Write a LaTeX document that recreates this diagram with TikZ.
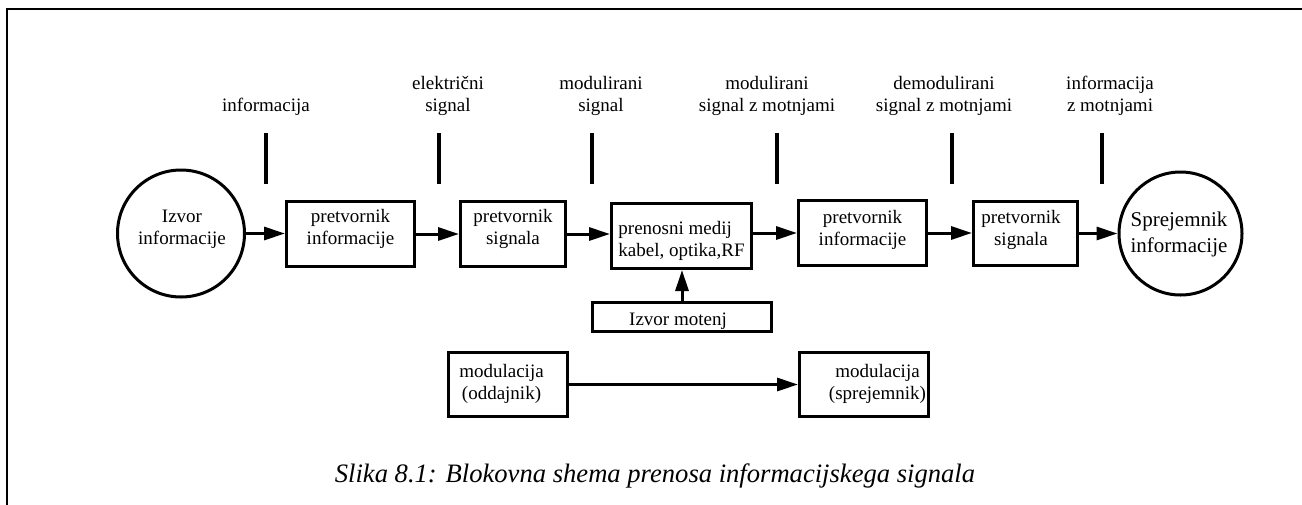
\documentclass[tikz,border=0pt]{standalone}
\usepackage{fontspec}
\setmainfont{Liberation Serif}
\usetikzlibrary{arrows.meta}
\begin{document}
\begin{tikzpicture}[x=1pt,y=-1pt,
  blk/.style={draw=black, line width=3.3pt, inner sep=0pt},
  disc/.style={draw=black, line width=3pt, circle, inner sep=0pt},
  txt/.style={inner sep=0pt, font=\fontsize{19}{22}\selectfont, align=center},
  sig/.style={txt, anchor=south},
  flow/.style={line width=3pt, -{Triangle[length=21pt,width=13pt]}},
  tickmark/.style={line width=3.5pt},
]
\useasboundingbox (0,0) rectangle (1302,504);
% frame edges
\draw[line width=2.4pt] (7,505) -- (7,9) -- (1303,9);

% main chain
\node[disc, minimum size=127pt] (src) at (181,233.5) {};
\node[txt] (srct) at (182,228.6) {Izvor\strut\\informacije\strut};

\node[blk, minimum width=127.7pt, minimum height=64.7pt] (pi1) at (350.5,234) {};
\node[txt] (pi1t) at (350.5,229) {pretvornik\strut\\informacije\strut};

\node[blk, minimum width=104.7pt, minimum height=64.7pt] (ps1) at (513,234) {};
\node[txt] (ps1t) at (513,229) {pretvornik\strut\\signala\strut};

\node[blk, minimum width=139.7pt, minimum height=64.7pt] (med) at (681.5,236) {};
\node[txt, align=left] (medt) at (681.5,240.6) {prenosni medij\strut\\kabel, optika,RF\strut};

\node[blk, minimum width=127.7pt, minimum height=64.7pt] (pi2) at (862.5,233) {};
\node[txt] (pi2t) at (862.5,229.6) {pretvornik\strut\\informacije\strut};

\node[blk, minimum width=103.7pt, minimum height=63.7pt] (ps2) at (1025.5,233.5) {};
\node[txt] (ps2t) at (1021,229.6) {pretvornik\strut\\signala\strut};

\node[disc, minimum size=123pt] (dst) at (1180.5,233.5) {};
\node[txt, font=\fontsize{21}{26}\selectfont] (dstt) at (1179,233.8) {Sprejemnik\strut\\informacije\strut};

% disturbance source
\node[blk, minimum width=178.7pt, minimum height=28.7pt] (noise) at (682,317) {};
\node[txt] (noiset) at (678,320.6) {Izvor motenj\strut};

% modulation pair
\node[blk, minimum width=118.7pt, minimum height=63.7pt] (modtx) at (508,384.5) {};
\node[txt] (modtxt) at (501.5,383.6) {modulacija\strut\\(oddajnik)\strut};
\node[blk, minimum width=128.7pt, minimum height=63.7pt] (modrx) at (864,384.5) {};
\node[txt] (modrxt) at (877.5,383.6) {modulacija\strut\\(sprejemnik)\strut};

% signal flow
\draw[flow] (src.east) -- (src.east -| pi1.west);
\draw[flow] (pi1.east) -- (pi1.east -| ps1.west);
\draw[flow] (ps1.east) -- (ps1.east -| med.west);
\draw[flow] (pi2.west -| med.east) -- (pi2.west);
\draw[flow] (pi2.east) -- (pi2.east -| ps2.west);
\draw[flow] (ps2.east) -- (ps2.east -| dst.west);
\draw[flow] (noise.north) -- (noise.north |- med.south);
\draw[flow] (modtx.east) -- (modtx.east -| modrx.west);

% signal taps and their names
\foreach \x in {266,439,592,777,952,1102}
  \draw[tickmark] (\x,133) -- (\x,184);
\node[sig] (s1) at (266,118.6) {informacija\strut};
\node[sig] (s2) at (448,118.6) {električni\strut\\signal\strut};
\node[sig] (s3) at (601,118.6) {modulirani\strut\\signal\strut};
\node[sig] (s4) at (767,118.6) {modulirani\strut\\signal z motnjami\strut};
\node[sig] (s5) at (944,118.6) {demodulirani\strut\\signal z motnjami\strut};
\node[sig] (s6) at (1110,118.6) {informacija\strut\\z motnjami\strut};

% caption
\node[inner sep=0pt, anchor=base, font=\fontsize{26.6}{32}\selectfont\itshape] (cap) at (655,482)
  {Slika 8.1: Blokovna shema prenosa informacijskega signala};
\end{tikzpicture}
\end{document}
